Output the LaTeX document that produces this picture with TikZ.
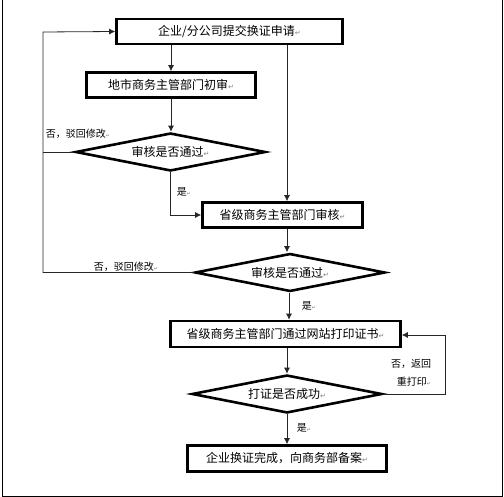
\documentclass[tikz,border=0pt]{standalone}
\usepackage{fontspec}
\setmainfont{Noto Sans CJK SC}
\newfontfamily\markfont{DejaVu Sans}
\usepackage{xcolor}
\usetikzlibrary{shapes.geometric}
\usetikzlibrary{arrows.meta}
\newcommand{\retmark}{{\markfont\color{gray}\fontsize{7}{7}\selectfont ↵}}
\newcommand{\labmark}{{\markfont\color{gray}\fontsize{5}{5}\selectfont ↵}}

\begin{document}
\begin{tikzpicture}[x=1pt,y=-1pt,
  box/.style={draw,line width=2.6pt,inner sep=0pt,minimum height=25pt,font=\fontsize{12}{14}\selectfont},
  cond/.style={draw,diamond,aspect=4.8,line width=2.6pt,inner sep=0pt,minimum width=190pt,minimum height=38pt,font=\fontsize{12}{14}\selectfont},
  flow/.style={-{Latex[length=6pt,width=6pt]},line width=0.8pt,draw=black!85},
  lab/.style={inner sep=0pt,font=\fontsize{10}{12}\selectfont}]
\useasboundingbox (0,0) rectangle (504,497);
\draw[line width=1pt] (2,0) -- (2,496) -- (502,496) -- (502,0);

% boxes and conditions
\node[box,minimum width=226pt] (apply) at (229.5,31.5) {企业/分公司提交换证申请\retmark};
\node[box,minimum width=169pt,minimum height=25pt] (city) at (171,85) {地市商务主管部门初审\retmark};
\node[cond] (check1) at (170.5,152) {审核是否通过\retmark};
\node[box,minimum width=160pt] (prov) at (282.5,215) {省级商务主管部门审核\retmark};
\node[cond] (check2) at (290,272.5) {审核是否通过\retmark};
\node[box,minimum width=230pt,minimum height=26pt] (print) at (285.5,334) {省级商务主管部门通过网站打印证书\retmark};
\node[cond] (check3) at (287,394) {打证是否成功\retmark};
\node[box,minimum width=199pt,minimum height=26pt] (done) at (287,458.5) {企业换证完成，向商务部备案\retmark};

% helper points
\coordinate (col) at (287,0);
\coordinate (back) at (43,32);
\coordinate (retry) at (445,335);

% connectors
\draw[flow] (apply.south -| city.north) -- (city.north);
\draw[flow] (apply.south -| col) -- (prov.north -| col);
\draw[flow] (city.south) -- (check1.north -| city.south);
\draw[flow] (check1.south) |- (prov.west);
\draw[line width=0.8pt,draw=black!85] (check1.west) -- (check1.west -| back);
\draw[flow] (check2.west) -| (back) -- (apply.west);
\draw[flow] (prov.south -| col) -- (check2.north -| col);
\draw[flow] (check2.south -| 289,0) -- (print.north -| 289,0);
\draw[flow] (print.south -| col) -- (check3.north -| col);
\draw[flow] (check3.east) -| (retry) -- (print.east |- retry);
\draw[flow] (check3.south -| col) -- (done.north -| col);

% labels
\node[lab] (no1) at (78,134) {否，驳回修改\labmark};
\node[lab] (yes1) at (184,192) {是\labmark};
\node[lab] (no2) at (126,267) {否，驳回修改\labmark};
\node[lab] (yes2) at (309,306) {是\labmark};
\node[lab] (no3) at (411,364) {否，返回};
\node[lab] (no3b) at (414,382) {重打印\labmark};
\node[lab] (yes3) at (304,428) {是\labmark};
\end{tikzpicture}
\end{document}
